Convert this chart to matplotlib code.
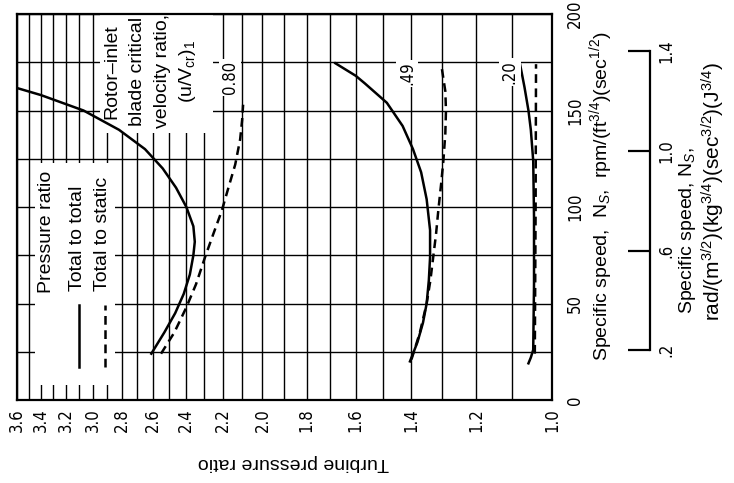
import matplotlib
matplotlib.use('Agg')
import matplotlib.pyplot as plt
from matplotlib.ticker import FixedLocator, FixedFormatter, NullFormatter
from matplotlib.patches import Rectangle

plt.rcParams['font.family'] = ['Liberation Sans', 'DejaVu Sans']
plt.rcParams['mathtext.fontset'] = 'custom'
plt.rcParams['mathtext.rm'] = 'Liberation Sans'
plt.rcParams['mathtext.it'] = 'Liberation Sans:italic'

# axis ticks / grid (turbine pressure ratio, log scale; specific speed, US units)
ratio_ticks = [3.6, 3.4, 3.2, 3.0, 2.8, 2.6, 2.4, 2.2, 2.0, 1.8, 1.6, 1.4, 1.2, 1.0]
ratio_labels = ['3.6', '3.4', '3.2', '3.0', '2.8', '2.6', '2.4', '2.2', '2.0', '1.8', '1.6', '1.4', '1.2', '1.0']
ratio_grid = [1.1, 1.3, 1.5, 1.7, 1.9, 2.1, 2.3, 2.5, 2.7, 2.9, 3.1, 3.3, 3.5]
ns_ticks = [0, 50, 100, 150, 200]
ns_grid = [25, 75, 125, 175]
si_ticks = [0.2, 0.6, 1.0, 1.4]
si_labels = ['.2', '.6', '1.0', '1.4']
si_per_us = 0.00775

# u/Vcr = 0.80
tt80_ns = [24, 35, 45, 55, 65, 75, 82, 90, 100, 110, 120, 130, 140, 150, 158, 162]
tt80_pr = [2.61, 2.53, 2.465, 2.415, 2.38, 2.36, 2.352, 2.36, 2.40, 2.46, 2.54, 2.65, 2.82, 3.07, 3.40, 3.62]
ts80_ns = [24, 35, 48, 60, 74, 86, 98, 110, 122, 135, 145, 153]
ts80_pr = [2.55, 2.47, 2.40, 2.345, 2.295, 2.25, 2.205, 2.17, 2.135, 2.11, 2.10, 2.095]
# u/Vcr = 0.49
tt49_ns = [20, 30, 40, 50, 62, 74, 88, 104, 118, 130, 142, 154, 164, 168, 174.5]
tt49_pr = [1.405, 1.38, 1.362, 1.350, 1.343, 1.339, 1.339, 1.350, 1.368, 1.395, 1.43, 1.485, 1.565, 1.60, 1.68]
ts49_ns = [21, 35, 50, 62, 74, 86, 98, 112, 124, 138, 150, 160, 172]
ts49_pr = [1.40, 1.372, 1.35, 1.338, 1.329, 1.320, 1.313, 1.304, 1.297, 1.291, 1.289, 1.291, 1.302]
# u/Vcr = 0.20
tt20_ns = [19, 22, 26, 60, 95, 124, 140, 150, 162, 174.5]
tt20_pr = [1.058, 1.052, 1.046, 1.044, 1.044, 1.046, 1.052, 1.058, 1.068, 1.080]
ts20_ns = [24, 100, 174]
ts20_pr = [1.042, 1.040, 1.039]

W, H = 734, 483
fig = plt.figure(figsize=(W / 100, H / 100), dpi=100)
ax = fig.add_axes([17 / W, 1 - 400 / H, 535 / W, 386 / H])

ax.set_xscale('log')
ax.set_xlim(3.6, 1.0)
ax.set_ylim(0, 200)
ax.xaxis.set_major_locator(FixedLocator(ratio_ticks))
ax.xaxis.set_major_formatter(FixedFormatter(ratio_labels))
ax.xaxis.set_minor_locator(FixedLocator(ratio_grid))
ax.xaxis.set_minor_formatter(NullFormatter())
ax.yaxis.set_major_locator(FixedLocator(ns_ticks))
ax.yaxis.set_minor_locator(FixedLocator(ns_grid))
ax.yaxis.tick_right()
ax.tick_params(which='both', length=0)
ax.tick_params(axis='x', pad=6, labelrotation=90, labelsize=12)
ax.tick_params(axis='y', pad=10, labelrotation=90, labelsize=12)
for lab in ax.get_xticklabels() + ax.get_yticklabels():
    lab.set_family('DejaVu Sans')
    lab.set_fontstretch('condensed')
for lab in ax.get_yticklabels():
    lab.set_verticalalignment('center')

ax.set_axisbelow(True)
ax.grid(True, which='both', color='black', lw=1.0)
for sp in ax.spines.values():
    sp.set_linewidth(1.6)

# white blanks behind the legend and note
ax.add_patch(Rectangle((0.034, 0.039), 0.149, 0.575, transform=ax.transAxes,
                       fc='white', ec='none', zorder=1))
ax.add_patch(Rectangle((0.155, 0.692), 0.211, 0.306, transform=ax.transAxes,
                       fc='white', ec='none', zorder=1))

dash = (0, (3.5, 2.2))
ax.plot(tt80_pr, tt80_ns, color='black', lw=1.8, zorder=3)
ax.plot(ts80_pr, ts80_ns, color='black', lw=1.8, ls=dash, zorder=3)
ax.plot(tt49_pr, tt49_ns, color='black', lw=1.8, zorder=3)
ax.plot(ts49_pr, ts49_ns, color='black', lw=1.8, ls=dash, zorder=3)
ax.plot(tt20_pr, tt20_ns, color='black', lw=1.8, zorder=3)
ax.plot(ts20_pr, ts20_ns, color='black', lw=1.8, ls=dash, zorder=3)

# curve labels
wb = dict(fc='white', ec='none', pad=1.5)
for x, y, s in [(0.398, 0.836, '0.80'), (0.729, 0.846, '.49'), (0.921, 0.849, '.20')]:
    ax.text(x, y, s, transform=ax.transAxes, rotation=90, ha='center', va='center',
            fontsize=12, family='DejaVu Sans', fontstretch='condensed', bbox=wb, zorder=4)

# note
note = ['Rotor\u2013inlet', 'blade critical', 'velocity ratio,', '(u/V$_{\\rm cr}$)$_1$']
for i, s in enumerate(note):
    ax.text(0.178 + i * 0.047, 0.852, s, transform=ax.transAxes, rotation=90,
            ha='center', va='center', fontsize=14, zorder=4)

# legend
ax.text(0.056, 0.277, 'Pressure ratio', transform=ax.transAxes, rotation=90,
        ha='center', va='bottom', fontsize=14, zorder=4)
ax.text(0.114, 0.282, 'Total to total', transform=ax.transAxes, rotation=90,
        ha='center', va='bottom', fontsize=14, zorder=4)
ax.text(0.159, 0.282, 'Total to static', transform=ax.transAxes, rotation=90,
        ha='center', va='bottom', fontsize=14, zorder=4)
ax.plot([0.116, 0.116], [0.085, 0.246], transform=ax.transAxes, color='black', lw=1.8, zorder=4)
ax.plot([0.164, 0.164], [0.085, 0.246], transform=ax.transAxes, color='black', lw=1.8,
        ls=dash, zorder=4)

ax.set_xlabel('Turbine pressure ratio', rotation=180, fontsize=14, ha='center', va='center')
ax.xaxis.set_label_coords(0.516, -0.163)
ax.yaxis.set_label_position('right')
ax.set_ylabel('Specific speed,  N$_S$,  rpm/(ft$^{3/4}$)(sec$^{1/2}$)', rotation=90,
              fontsize=14, ha='center', va='center')
ax.yaxis.set_label_coords(1.092, 0.528)

# SI specific speed scale
ax2 = fig.add_axes([628 / W, 1 - 400 / H, 22 / W, 386 / H])
ax2.set_ylim(0, 200 * si_per_us)
ax2.patch.set_visible(False)
for k in ['top', 'bottom', 'left']:
    ax2.spines[k].set_visible(False)
ax2.spines['right'].set_linewidth(1.6)
ax2.spines['right'].set_bounds(si_ticks[0], si_ticks[-1])
ax2.set_xticks([])
ax2.yaxis.tick_right()
ax2.yaxis.set_major_locator(FixedLocator(si_ticks))
ax2.yaxis.set_major_formatter(FixedFormatter(si_labels))
ax2.tick_params(axis='y', direction='in', length=16, width=1.6, pad=5,
                labelrotation=90, labelsize=12)
for lab in ax2.get_yticklabels():
    lab.set_family('DejaVu Sans')
    lab.set_fontstretch('condensed')
    lab.set_verticalalignment('center')

fig.text(687 / W, 1 - 230 / H, 'Specific speed, N$_S$,', rotation=90,
         ha='center', va='center', fontsize=14)
fig.text(713 / W, 1 - 192 / H, 'rad/(m$^{3/2}$)(kg$^{3/4}$)(sec$^{3/2}$)(J$^{3/4}$)', rotation=90,
         ha='center', va='center', fontsize=15)

fig.savefig('out.png', dpi=100)
